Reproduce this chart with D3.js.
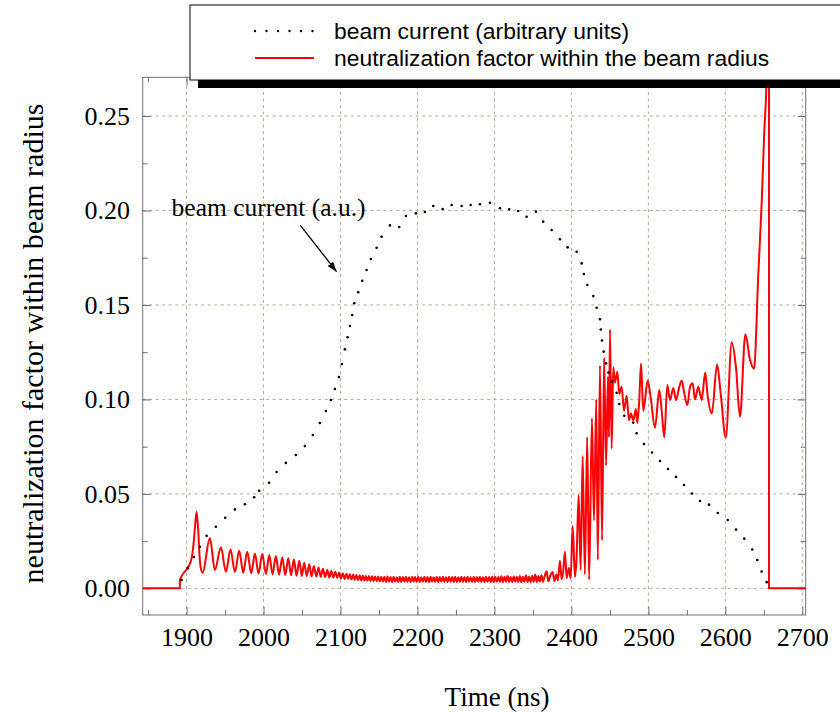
<!DOCTYPE html>
<html><head><meta charset="utf-8">
<script src="https://cdn.jsdelivr.net/npm/d3@7"></script>
<style>body{margin:0;background:#fff}</style>
</head><body>
<svg id="chart" width="840" height="713"></svg>
<script>
// ---------------- data ----------------
const xTicks = [1900, 2000, 2100, 2200, 2300, 2400, 2500, 2600, 2700];
const xMinorTicks = [1850, 1950, 2050, 2150, 2250, 2350, 2450, 2550, 2650];
const yTicks = [0, 0.05, 0.10, 0.15, 0.20, 0.25];
const yMinorTicks = [0.025, 0.075, 0.125, 0.175, 0.225];
const legendLabels = ["beam current (arbitrary units)", "neutralization factor within the beam radius"];
const xTitle = "Time (ns)";
const yTitle = "neutralization factor within beam radius";
const annotationText = "beam current (a.u.)";
const annotationAnchor = [1880.5, 0.1970];
const annotationArrow = [[2047.6, 0.1923], [2094.9, 0.1676]];

// beam current (dotted), [time ns, value]
const beamCurrent = [
[1893.5,0.0044],[1901.7,0.0107],[1909.5,0.0166],[1917.3,0.0220],[1926.0,0.0278],[1938.1,0.0326],
[1950.2,0.0374],[1962.8,0.0418],[1975.8,0.0445],[1987.8,0.0482],[1994.3,0.0517],[2007.3,0.0559],
[2017.0,0.0616],[2029.0,0.0664],[2042.0,0.0706],[2053.7,0.0753],[2064.1,0.0812],[2073.2,0.0875],
[2081.0,0.0939],[2087.5,0.0997],[2092.7,0.1055],[2097.9,0.1119],[2101.8,0.1187],[2105.7,0.1265],
[2109.2,0.1329],[2112.2,0.1389],[2115.2,0.1447],[2117.8,0.1509],[2123.0,0.1567],[2128.2,0.1628],
[2133.9,0.1685],[2139.5,0.1743],[2146.9,0.1803],[2153.4,0.1861],[2164.2,0.1921],[2176.3,0.1913],
[2185.0,0.1971],[2198.0,0.1985],[2209.7,0.1992],[2220.5,0.2024],[2232.7,0.2008],[2244.4,0.2029],
[2257.4,0.2024],[2269.1,0.2029],[2281.2,0.2033],[2294.2,0.2041],[2307.2,0.2012],[2319.2,0.2006],
[2330.9,0.1997],[2341.8,0.1967],[2353.9,0.1994],[2363.4,0.1941],[2374.3,0.1897],[2385.1,0.1848],
[2395.1,0.1805],[2406.8,0.1782],[2413.3,0.1720],[2416.3,0.1664],[2420.6,0.1606],[2428.4,0.1547],
[2432.8,0.1485],[2437.1,0.1424],[2438.1,0.1370],[2439.7,0.1312],[2441.9,0.1253],[2444.9,0.1191],
[2448.1,0.1142],[2452.3,0.1094],[2458.8,0.1035],[2462.2,0.0976],[2468.7,0.0914],[2480.4,0.0877],
[2484.8,0.0821],[2494.3,0.0764],[2504.7,0.0719],[2515.1,0.0674],[2525.5,0.0632],[2535.9,0.0590],
[2546.3,0.0547],[2556.7,0.0502],[2567.1,0.0462],[2578.8,0.0443],[2590.1,0.0399],[2603.1,0.0362],
[2613.9,0.0311],[2624.6,0.0263],[2635.0,0.0206],[2641.5,0.0150],[2647.2,0.0089],[2653.7,0.0033]
];

// neutralization factor (red), split into pieces
const neutralBaselineLeft = [[1843,0],[1891.3,0],[1891.3,0.0044]];
const neutralRise = [
[1891.3,0.0044],[1893.5,0.0065],[1898.0,0.0090],[1902.2,0.0114],[1906.5,0.0159],[1908.6,0.0217],
[1910.8,0.0318],[1913.0,0.0406],[1915.1,0.0309],[1916.4,0.0203],[1918.2,0.0114],[1920.8,0.0083]
];
const neutralOscillation = [
[1930.3,0.0265],[1936.8,0.0097],[1944.6,0.0217],[1951.1,0.0088],[1957.1,0.0206],[1962.8,0.0086],
[1968.4,0.0199],[1973.6,0.0083],[1978.8,0.0194],[1984.0,0.0080],[1988.8,0.0185],[1993.5,0.0078],
[1998.3,0.0182],[2003.1,0.0076],[2007.4,0.0176],[2011.7,0.0074],[2016.0,0.0171],[2020.2,0.0072],
[2024.3,0.0164],[2028.2,0.0071],[2032.1,0.0159],[2035.8,0.0069],[2039.4,0.0153],[2042.9,0.0067],
[2046.4,0.0146],[2049.7,0.0066],[2052.9,0.0136],[2056.1,0.0065],[2059.4,0.0127],[2062.4,0.0063],
[2065.4,0.0118],[2068.5,0.0062],[2071.5,0.0111],[2074.3,0.0061],[2077.1,0.0104],[2080.0,0.0060],
[2082.8,0.0097],[2085.4,0.0058],[2088.0,0.0092],[2090.6,0.0057],[2093.2,0.0088],[2095.7,0.0056],
[2098.2,0.0084],[2100.6,0.0052],[2103.0,0.0080],[2105.3,0.0050],[2107.6,0.0077],[2109.9,0.0049],
[2112.1,0.0075],[2114.3,0.0047],[2116.5,0.0073],[2118.6,0.0045],[2120.7,0.0071],[2122.8,0.0043],
[2124.9,0.0069],[2127.0,0.0042],[2129.0,0.0068],[2131.0,0.0041],[2133.0,0.0066],[2135.0,0.0040],
[2137.0,0.0065],[2139.0,0.0039],[2141.0,0.0064],[2143.0,0.0038],[2145.0,0.0063],[2147.0,0.0037],
[2149.0,0.0063],[2151.0,0.0036]
];
// plateau: samples every 2 ns starting at 2153 ns
const plateauStart = 2153, plateauStep = 2;
const neutralPlateau = [
.0062,.0036,.0061,.0034,.0063,.0035,.0060,.0033,.0062,.0036,
.0059,.0034,.0061,.0033,.0060,.0035,.0062,.0034,.0059,.0033,
.0061,.0035,.0060,.0034,.0062,.0033,.0059,.0035,.0061,.0034,
.0060,.0033,.0062,.0035,.0059,.0034,.0061,.0033,.0060,.0035,
.0062,.0034,.0059,.0033,.0061,.0035,.0060,.0034,.0062,.0033,
.0059,.0035,.0061,.0034,.0060,.0033,.0062,.0035,.0059,.0034,
.0061,.0033,.0060,.0035,.0062,.0034,.0059,.0033,.0061,.0035,
.0060,.0034,.0063,.0033,.0061,.0035,.0060,.0034,.0064,.0033,
.0061,.0035,.0065,.0034,.0060,.0033,.0063,.0035,.0061,.0034,
.0066,.0033,.0062,.0035,.0069,.0034,.0063,.0033,.0067,.0035,
.0073,.0034,.0065
];
const neutralBurst = [
[2359.0,0.0036],[2361.0,0.0070],[2363.0,0.0035],[2365.0,0.0062],[2367.8,0.0090],[2370.0,0.0037],
[2372.5,0.0067],[2375.6,0.0087],[2378.0,0.0038],[2380.5,0.0074],[2382.5,0.0042],[2385.1,0.0146],
[2387.3,0.0048],[2389.2,0.0085],[2391.6,0.0194],[2393.8,0.0055],[2396.8,0.0108],[2399.0,0.0052],
[2401.6,0.0330],[2404.6,0.0060],[2406.7,0.0160],[2409.4,0.0494],[2412.0,0.0097],[2414.6,0.0700],
[2417.5,0.0075],[2420.5,0.0800],[2423.0,0.0046],[2426.7,0.0900],[2429.3,0.0360],[2432.3,0.1000],
[2434.3,0.0150],[2437.1,0.1180],[2439.8,0.0255],[2442.5,0.1220],[2445.0,0.0650],[2447.5,0.1120],
[2448.8,0.0800],[2450.1,0.1370],[2452.3,0.0740],[2454.4,0.1170],[2456.6,0.1090],[2459.6,0.1147]
];
const neutralTail = [
[2462.2,0.1030],[2465.3,0.1067],[2468.3,0.0940],[2471.8,0.1020],[2474.8,0.0890],[2477.4,0.0925],
[2480.4,0.0890],[2483.9,0.0950],[2485.6,0.0875],[2488.2,0.0997],[2490.4,0.1190],[2493.4,0.0940],
[2499.1,0.1100],[2503.0,0.1010],[2508.6,0.0850],[2514.2,0.1050],[2517.3,0.0940],[2520.7,0.0800],
[2524.6,0.1076],[2528.1,0.0997],[2532.4,0.1060],[2535.9,0.0997],[2539.8,0.1060],[2543.3,0.1100],
[2546.3,0.1040],[2550.6,0.0970],[2554.1,0.1067],[2557.6,0.1085],[2560.6,0.1000],[2564.8,0.1067],
[2569.3,0.0997],[2573.8,0.1143],[2577.0,0.1020],[2582.5,0.0925],[2589.2,0.1185],[2594.0,0.1030],
[2600.5,0.0798],[2608.3,0.1303],[2613.8,0.1170],[2619.0,0.0908],[2626.0,0.1345],[2632.0,0.1210],
[2637.3,0.1163],[2642.8,0.1660],[2647.2,0.2040],[2650.6,0.2420],[2653.7,0.2720],[2655.2,0.3100]
];
const neutralBaselineRight = [[2655.2,0.3100],[2656.7,0.3100],[2656.7,0],[2710,0]];

// ---------------- drawing ----------------
const svg = d3.select("#chart");
const plot = {left: 142.7, right: 805.7, top: 77.3, bottom: 615};
const x = d3.scaleLinear().domain([1843, 2704.4]).range([plot.left, plot.right]);
const y = d3.scaleLinear().domain([-0.0141, 0.2705]).range([plot.bottom, plot.top]);
const serif = "'Liberation Serif','Times New Roman',Times,serif";
const sans = "'Liberation Sans',Arial,Helvetica,sans-serif";
const frameColor = "#6e6e6e";
const gridColor = "#aeac8e";

svg.append("rect").attr("width", 840).attr("height", 713).attr("fill", "#fff");

svg.append("defs").append("clipPath").attr("id", "plotclip")
  .append("rect").attr("x", plot.left).attr("y", plot.top)
  .attr("width", plot.right - plot.left).attr("height", plot.bottom - plot.top);

// grid
const grid = svg.append("g").attr("stroke", gridColor).attr("stroke-width", 1).attr("stroke-dasharray", "3,3.5");
grid.selectAll("line.gx").data(xTicks).join("line").attr("class", "gx")
  .attr("x1", d => x(d)).attr("x2", d => x(d)).attr("y1", plot.bottom).attr("y2", plot.top);
grid.selectAll("line.gy").data(yTicks).join("line").attr("class", "gy")
  .attr("y1", d => y(d)).attr("y2", d => y(d)).attr("x1", plot.left).attr("x2", plot.right);

// axes
function styleAxis(g) {
  g.select(".domain").remove();
  g.selectAll(".tick line").attr("stroke", frameColor);
  g.selectAll("text").attr("font-family", serif).attr("font-size", 26).attr("fill", "#000");
  g.attr("font-family", null).attr("font-size", null);
}
svg.append("g").attr("transform", `translate(0,${plot.bottom})`)
  .call(d3.axisBottom(x).tickValues(xTicks).tickFormat(d3.format("d")).tickSizeInner(-8).tickSizeOuter(0).tickPadding(12.5))
  .call(styleAxis);
svg.append("g").attr("transform", `translate(0,${plot.bottom})`)
  .call(d3.axisBottom(x).tickValues(xMinorTicks).tickFormat("").tickSizeInner(-5).tickSizeOuter(0))
  .call(styleAxis);
svg.append("g").attr("transform", `translate(0,${plot.top})`)
  .call(d3.axisTop(x).tickValues(xTicks).tickFormat("").tickSizeInner(-8).tickSizeOuter(0))
  .call(styleAxis);
svg.append("g").attr("transform", `translate(0,${plot.top})`)
  .call(d3.axisTop(x).tickValues(xMinorTicks).tickFormat("").tickSizeInner(-5).tickSizeOuter(0))
  .call(styleAxis);
svg.append("g").attr("transform", `translate(${plot.left},0)`)
  .call(d3.axisLeft(y).tickValues(yTicks).tickFormat(d3.format(".2f")).tickSizeInner(-8).tickSizeOuter(0).tickPadding(12.7))
  .call(styleAxis);
svg.append("g").attr("transform", `translate(${plot.left},0)`)
  .call(d3.axisLeft(y).tickValues(yMinorTicks).tickFormat("").tickSizeInner(-5).tickSizeOuter(0))
  .call(styleAxis);
svg.append("g").attr("transform", `translate(${plot.right},0)`)
  .call(d3.axisRight(y).tickValues(yTicks).tickFormat("").tickSizeInner(-8).tickSizeOuter(0))
  .call(styleAxis);
svg.append("g").attr("transform", `translate(${plot.right},0)`)
  .call(d3.axisRight(y).tickValues(yMinorTicks).tickFormat("").tickSizeInner(-5).tickSizeOuter(0))
  .call(styleAxis);

// frame
svg.append("rect").attr("x", plot.left).attr("y", plot.top)
  .attr("width", plot.right - plot.left).attr("height", plot.bottom - plot.top)
  .attr("fill", "none").attr("stroke", frameColor).attr("stroke-width", 1);

// data layer
const data = svg.append("g").attr("clip-path", "url(#plotclip)");
const lineLin = d3.line().x(d => x(d[0])).y(d => y(d[1]));
const lineSmooth = d3.line().x(d => x(d[0])).y(d => y(d[1])).curve(d3.curveMonotoneX);
const plateauPairs = neutralPlateau.map((v, i) => [plateauStart + i * plateauStep, v]);
const smoothPart = [].concat(neutralRise, neutralOscillation, plateauPairs, neutralBurst, neutralTail);
const redStyle = p => p.attr("fill", "none").attr("stroke", "#ff0000").attr("stroke-width", 2)
  .attr("stroke-linejoin", "round").attr("stroke-linecap", "round");
data.append("path").attr("d", lineLin(neutralBaselineLeft)).call(redStyle);
data.append("path").attr("d", lineSmooth(smoothPart)).call(redStyle);
data.append("path").attr("d", lineLin(neutralBaselineRight)).call(redStyle);

data.selectAll("circle.bc").data(beamCurrent).join("circle").attr("class", "bc")
  .attr("cx", d => x(d[0])).attr("cy", d => y(d[1])).attr("r", 1.3).attr("fill", "#000");

// annotation
svg.append("defs").append("marker").attr("id", "arrowhead")
  .attr("viewBox", "0 0 10 7").attr("refX", 10).attr("refY", 3.5)
  .attr("markerWidth", 10).attr("markerHeight", 7).attr("markerUnits", "userSpaceOnUse")
  .attr("orient", "auto")
  .append("path").attr("d", "M0,0 L10,3.5 L0,7 Z").attr("fill", "#000");
svg.append("line")
  .attr("x1", x(annotationArrow[0][0])).attr("y1", y(annotationArrow[0][1]))
  .attr("x2", x(annotationArrow[1][0])).attr("y2", y(annotationArrow[1][1]))
  .attr("stroke", "#000").attr("stroke-width", 1.3).attr("marker-end", "url(#arrowhead)");
svg.append("text").attr("x", x(annotationAnchor[0])).attr("y", y(annotationAnchor[1]))
  .attr("font-family", serif).attr("font-size", 25.5).attr("fill", "#000").text(annotationText);

// axis titles
svg.append("text").attr("x", 497).attr("y", 706).attr("text-anchor", "middle")
  .attr("font-family", serif).attr("font-size", 27).text(xTitle);
svg.append("text").attr("transform", "translate(43,343.5) rotate(-90)").attr("text-anchor", "middle")
  .attr("font-family", serif).attr("font-size", 30).text(yTitle);

// legend
const leg = svg.append("g");
leg.append("rect").attr("x", 198).attr("y", 13).attr("width", 700).attr("height", 75).attr("fill", "#000");
leg.append("rect").attr("x", 190).attr("y", 5).attr("width", 700).attr("height", 75)
  .attr("fill", "#fff").attr("stroke", "#000").attr("stroke-width", 1);
leg.append("line").attr("x1", 255).attr("x2", 314).attr("y1", 31).attr("y2", 31)
  .attr("stroke", "#000").attr("stroke-width", 2.4).attr("stroke-linecap", "round").attr("stroke-dasharray", "0,11.5");
leg.append("line").attr("x1", 255).attr("x2", 314).attr("y1", 58).attr("y2", 58)
  .attr("stroke", "#ff0000").attr("stroke-width", 2);
leg.selectAll("text").data(legendLabels).join("text")
  .attr("x", 334).attr("y", (d, i) => 39 + i * 27)
  .attr("font-family", sans).attr("font-size", 22.9).attr("fill", "#000").text(d => d);
</script>
</body></html>
